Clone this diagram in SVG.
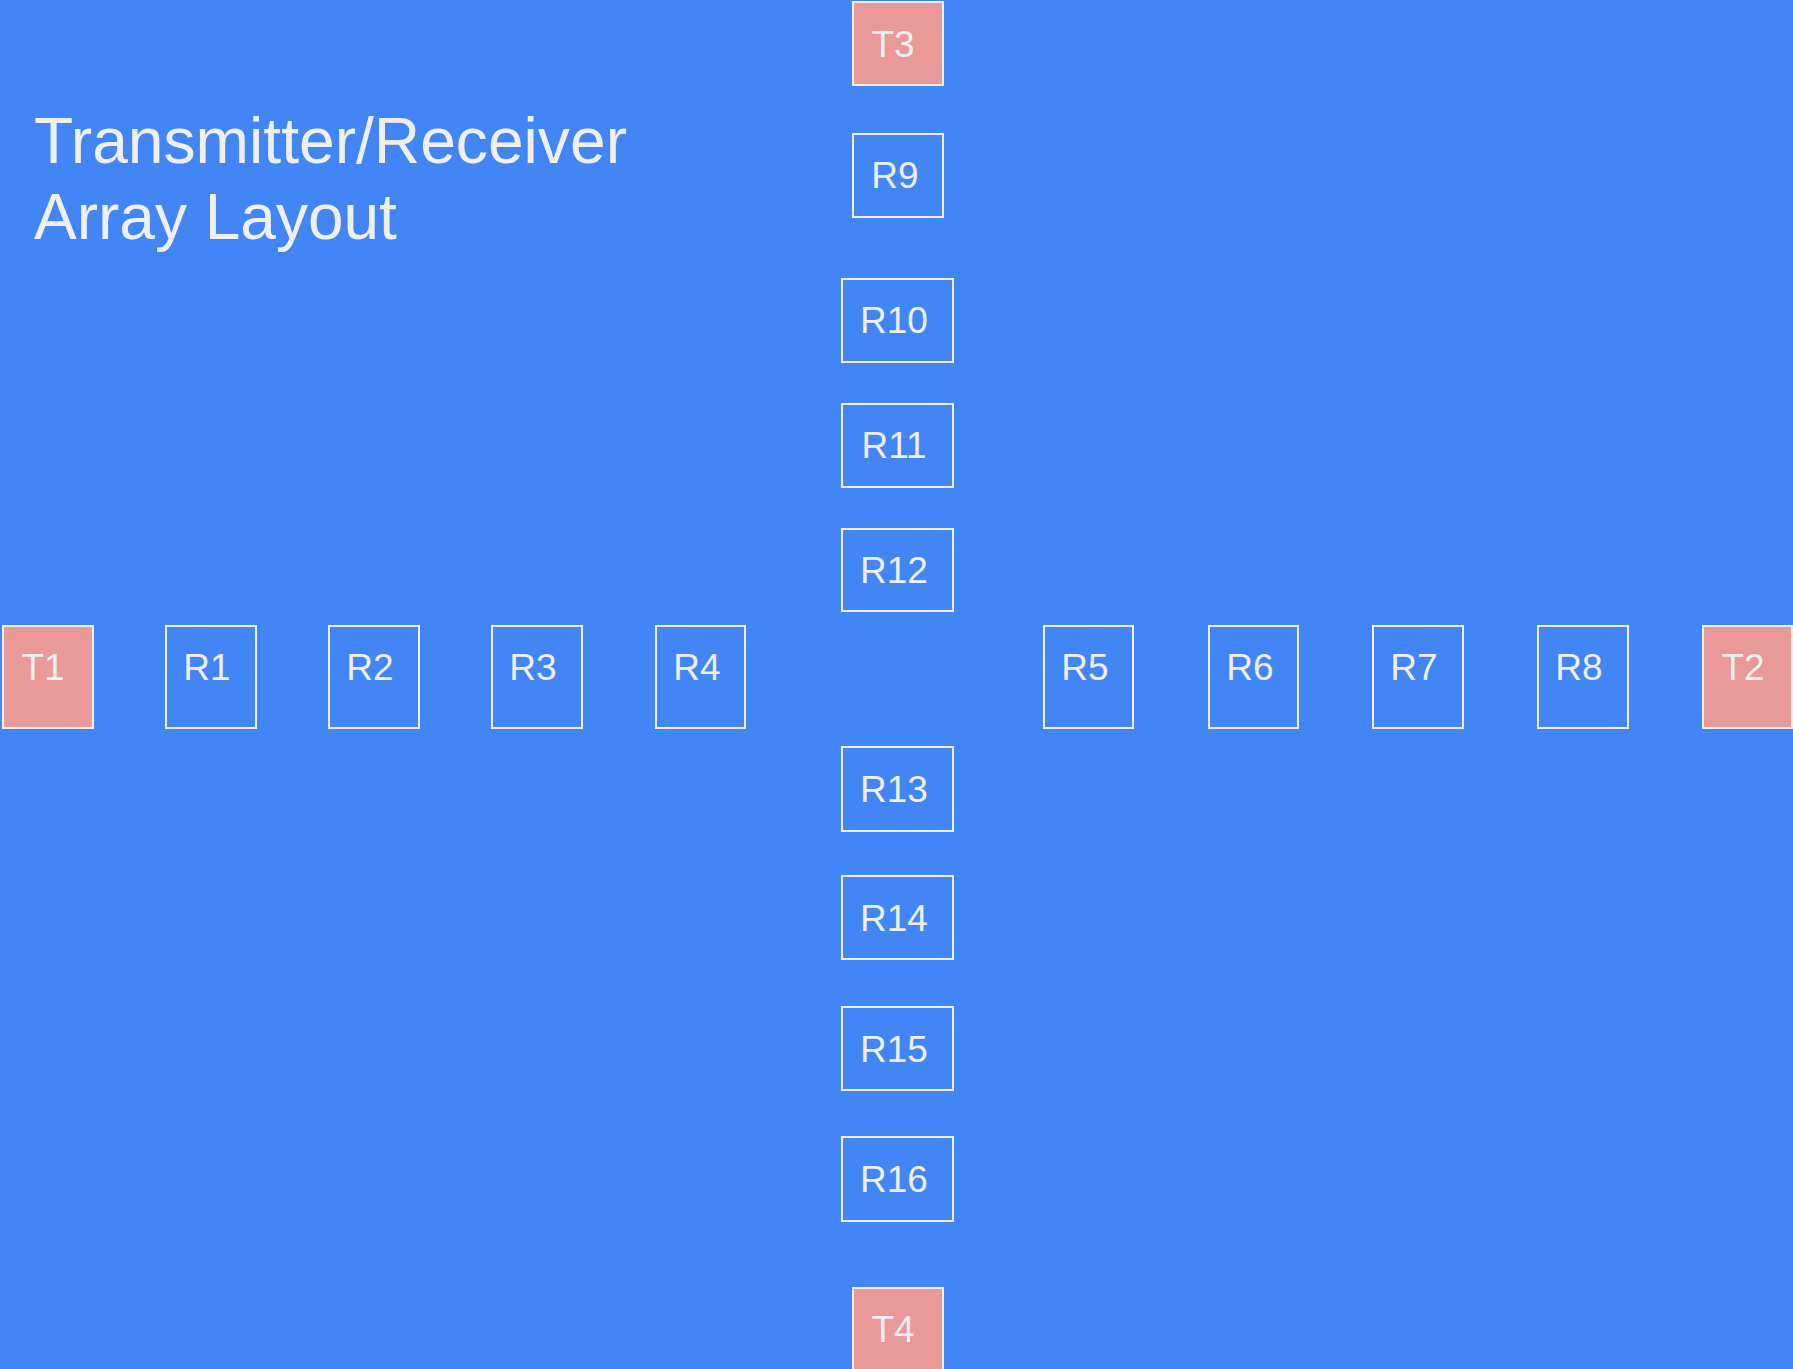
<svg xmlns="http://www.w3.org/2000/svg" width="1793" height="1369" viewBox="0 0 1793 1369">
  <style>
    .rx { fill: #4285f4; stroke: #efefef; stroke-width: 2; }
    .tx { fill: #ea9999; stroke: #efefef; stroke-width: 2; }
    .lbl { font-family: "Liberation Sans", Arial, sans-serif; font-size: 37px; fill: #efefef; text-anchor: middle; }
    .title { font-family: "Liberation Sans", Arial, sans-serif; font-size: 64px; fill: #efefef; }
  </style>
  <rect x="0" y="0" width="1793" height="1369" fill="#4285f4"/>

  <text class="title" x="34" y="163" textLength="593" lengthAdjust="spacingAndGlyphs">Transmitter/Receiver</text>
  <text class="title" x="34" y="239">Array Layout</text>

  <!-- horizontal row: T1, R1–R8, T2 -->
  <g id="T1"><rect class="tx" x="3" y="626" width="90" height="102"/><text class="lbl" x="43" y="680">T1</text></g>
  <g id="R1"><rect class="rx" x="166" y="626" width="90" height="102"/><text class="lbl" x="207" y="680">R1</text></g>
  <g id="R2"><rect class="rx" x="329" y="626" width="90" height="102"/><text class="lbl" x="370" y="680">R2</text></g>
  <g id="R3"><rect class="rx" x="492" y="626" width="90" height="102"/><text class="lbl" x="533" y="680">R3</text></g>
  <g id="R4"><rect class="rx" x="656" y="626" width="89" height="102"/><text class="lbl" x="697" y="680">R4</text></g>
  <g id="R5"><rect class="rx" x="1044" y="626" width="89" height="102"/><text class="lbl" x="1085" y="680">R5</text></g>
  <g id="R6"><rect class="rx" x="1209" y="626" width="89" height="102"/><text class="lbl" x="1250" y="680">R6</text></g>
  <g id="R7"><rect class="rx" x="1373" y="626" width="90" height="102"/><text class="lbl" x="1414" y="680">R7</text></g>
  <g id="R8"><rect class="rx" x="1538" y="626" width="90" height="102"/><text class="lbl" x="1579" y="680">R8</text></g>
  <g id="T2"><rect class="tx" x="1703" y="626" width="89" height="102"/><text class="lbl" x="1743" y="680">T2</text></g>

  <!-- vertical column: T3, R9–R16, T4 -->
  <g id="T3"><rect class="tx" x="853" y="2" width="90" height="83"/><text class="lbl" x="893" y="57">T3</text></g>
  <g id="R9"><rect class="rx" x="853" y="134" width="90" height="83"/><text class="lbl" x="895" y="188">R9</text></g>
  <g id="R10"><rect class="rx" x="842" y="279" width="111" height="83"/><text class="lbl" x="894" y="333">R10</text></g>
  <g id="R11"><rect class="rx" x="842" y="404" width="111" height="83"/><text class="lbl" x="894" y="458">R11</text></g>
  <g id="R12"><rect class="rx" x="842" y="529" width="111" height="82"/><text class="lbl" x="894" y="583">R12</text></g>
  <g id="R13"><rect class="rx" x="842" y="747" width="111" height="84"/><text class="lbl" x="894" y="802">R13</text></g>
  <g id="R14"><rect class="rx" x="842" y="876" width="111" height="83"/><text class="lbl" x="894" y="931">R14</text></g>
  <g id="R15"><rect class="rx" x="842" y="1007" width="111" height="83"/><text class="lbl" x="894" y="1062">R15</text></g>
  <g id="R16"><rect class="rx" x="842" y="1137" width="111" height="84"/><text class="lbl" x="894" y="1192">R16</text></g>
  <g id="T4"><rect class="tx" x="853" y="1288" width="90" height="83"/><text class="lbl" x="893" y="1342">T4</text></g>

  <g id="connectors"/>
</svg>
